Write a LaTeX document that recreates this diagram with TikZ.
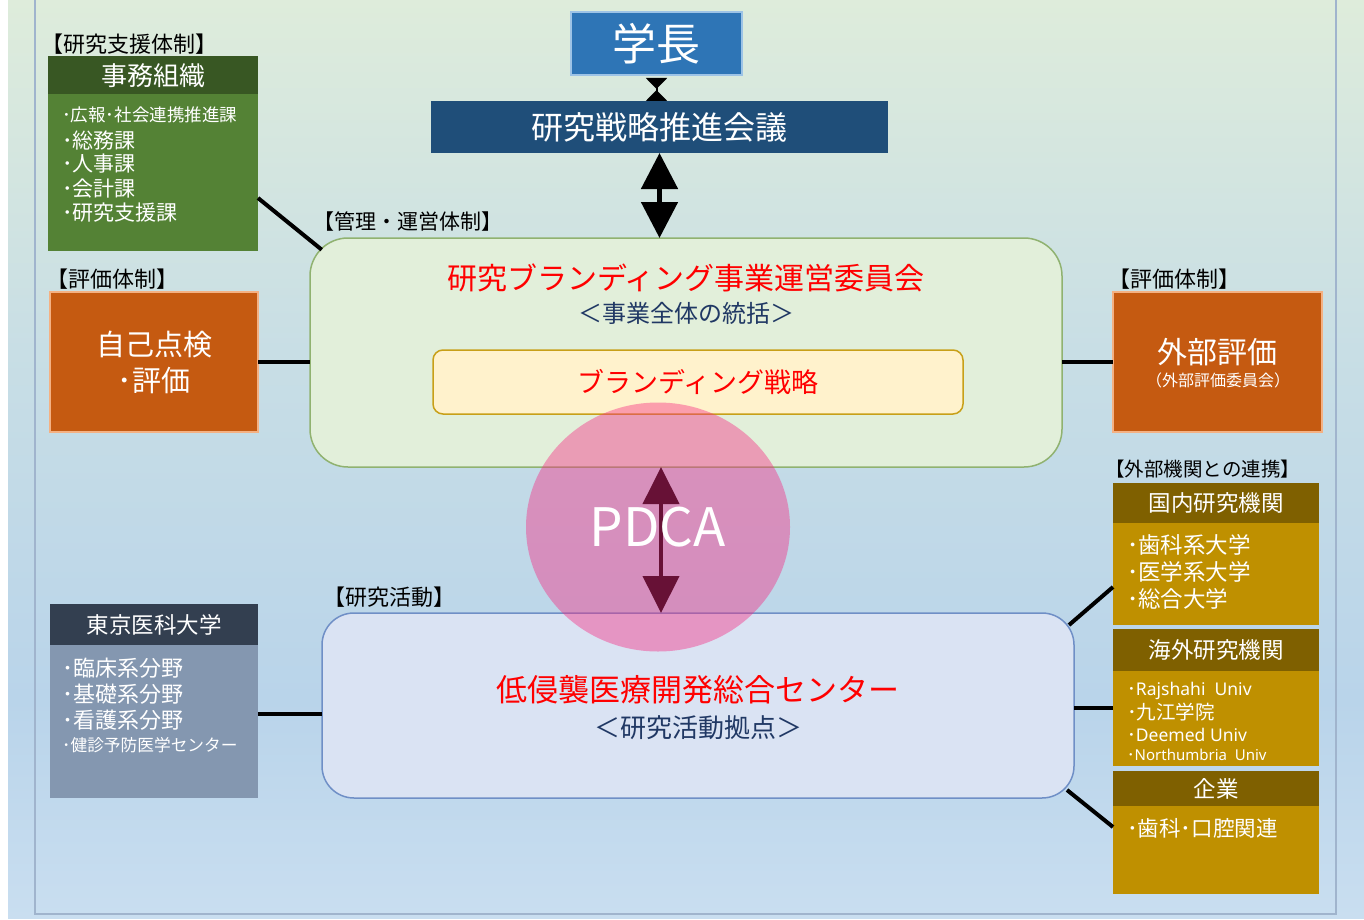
\documentclass[tikz,border=0pt]{standalone}
\usepackage{fontspec}
\setmainfont{Noto Sans CJK JP}
\newfontfamily\latf{Noto Sans}
\usetikzlibrary{arrows.meta,shapes.geometric}
\definecolor{bgtop}{RGB}{222,236,219}
\definecolor{bgmid}{RGB}{200,222,229}
\definecolor{bgblue}{RGB}{185,212,234}
\definecolor{bgbot}{RGB}{201,222,240}
\definecolor{framec}{RGB}{160,180,205}
\definecolor{gakuc}{RGB}{46,117,182}
\definecolor{gakub}{RGB}{157,195,230}
\definecolor{kaigic}{RGB}{31,78,121}
\definecolor{uneif}{RGB}{226,239,218}
\definecolor{uneid}{RGB}{144,178,112}
\definecolor{senf}{RGB}{255,242,204}
\definecolor{send}{RGB}{200,160,24}
\definecolor{cenf}{RGB}{218,227,243}
\definecolor{cend}{RGB}{111,143,198}
\definecolor{navy}{RGB}{32,56,100}
\definecolor{jimudk}{RGB}{56,87,35}
\definecolor{jimugr}{RGB}{84,130,53}
\definecolor{orangef}{RGB}{197,90,17}
\definecolor{oranged}{RGB}{244,177,131}
\definecolor{tokdk}{RGB}{51,63,80}
\definecolor{tokbd}{RGB}{132,151,176}
\definecolor{golddk}{RGB}{127,96,0}
\definecolor{goldbd}{RGB}{191,144,0}
\definecolor{pdcac}{RGB}{246,42,130}
\newcommand{\myfs}[1]{\fontsize{#1}{#1}\selectfont}
\begin{document}
\begin{tikzpicture}[x=1pt,y=-1pt,
  box/.style={rectangle, inner sep=0pt, outer sep=0pt},
  lbl/.style={anchor=west, inner sep=0pt, font=\myfs{22}, text=black},
  item/.style={anchor=west, inner sep=0pt, text=white},
  conn/.style={line width=4pt, black}
]
\useasboundingbox (0,0) rectangle (1364,920);
% background
\shade[top color=bgtop, bottom color=bgblue, middle color=bgmid] (8,0) rectangle (1364,700);
\shade[top color=bgblue, bottom color=bgbot] (8,700) rectangle (1364,918);
\draw[framec, line width=2.5pt] (35,-5) -- (35,914) -- (1336,914) -- (1336,-5);

% section labels
\node[lbl] (l1) at (41,44) {【研究支援体制】};
\node[lbl, font=\myfs{21}] (l2) at (313,222) {【管理・運営体制】};
\node[lbl] (l3) at (46,279) {【評価体制】};
\node[lbl] (l4) at (1108,279) {【評価体制】};
\node[lbl, font=\myfs{19.5}] (l5) at (1105,469) {【外部機関との連携】};
\node[lbl] (l6) at (323,597) {【研究活動】};

% top
\node[box, fill=gakuc, draw=gakub, line width=2pt, minimum width=171pt, minimum height=63pt, text=white, font=\myfs{44}] (gaku) at (656.5,43.5) {学長};
\node[box, fill=kaigic, minimum width=457pt, minimum height=52pt, text=white, font=\myfs{32}] (kaigi) at (659.5,127) {研究戦略推進会議};

% management box
\node[box, fill=uneif, draw=uneid, line width=1.5pt, rounded corners=38pt, minimum width=752pt, minimum height=229pt] (unei) at (686,352.5) {};
\node[inner sep=0pt, text=red, font=\myfs{30}] (unei1) at (686,278) {研究ブランディング事業運営委員会};
\node[inner sep=0pt, text=navy, font=\myfs{24}] (unei2) at (686,313) {＜事業全体の統括＞};
\node[box, fill=senf, draw=send, line width=1.5pt, rounded corners=10pt, minimum width=530pt, minimum height=64pt, text=red, font=\myfs{27}] (sen) at (698,382) {ブランディング戦略};

% research center
\node[box, fill=cenf, draw=cend, line width=1.5pt, rounded corners=32pt, minimum width=752pt, minimum height=185pt] (cen) at (698,705.5) {};
\node[inner sep=0pt, text=red, font=\myfs{31}] (cen1) at (698,690) {低侵襲医療開発総合センター};
\node[inner sep=0pt, text=navy, font=\myfs{26}] (cen2) at (698,728) {＜研究活動拠点＞};

% left: jimu
\node[box, fill=jimudk, minimum width=210pt, minimum height=38pt, text=white, font=\myfs{26}] (jimuh) at (153,75.5) {事務組織};
\node[box, fill=jimugr, minimum width=210pt, minimum height=157pt] (jimub) at (153,172.5) {};
\node[item, font=\myfs{17.5}] (j1) at (62,115) {･広報･社会連携推進課};
\node[item, font=\myfs{21}] (j2) at (62,140.5) {･総務課};
\node[item, font=\myfs{21}] (j3) at (62,164) {･人事課};
\node[item, font=\myfs{21}] (j4) at (62,188.5) {･会計課};
\node[item, font=\myfs{21}] (j5) at (62,213) {･研究支援課};

% left: jiko
\node[box, fill=orangef, draw=oranged, line width=2pt, minimum width=208pt, minimum height=140pt, text=white, align=center, font=\fontsize{29}{36}\selectfont] (jiko) at (154,362) {自己点検\\･評価};

% left: tokyo
\node[box, fill=tokdk, minimum width=208pt, minimum height=41pt, text=white, font=\myfs{22.5}] (tokh) at (154,624.5) {東京医科大学};
\node[box, fill=tokbd, minimum width=208pt, minimum height=153pt] (tokb) at (154,721.5) {};
\node[item, font=\myfs{22}] (t1) at (62,668) {･臨床系分野};
\node[item, font=\myfs{22}] (t2) at (62,694) {･基礎系分野};
\node[item, font=\myfs{22}] (t3) at (62,720) {･看護系分野};
\node[item, font=\myfs{16.7}] (t4) at (62,745) {･健診予防医学センター};

% right: gaibu
\node[box, fill=orangef, draw=oranged, line width=2pt, minimum width=209pt, minimum height=140pt] (gaibu) at (1217.5,362) {};
\node[inner sep=0pt, text=white, font=\myfs{30}] (gaibu1) at (1217,352) {外部評価};
\node[inner sep=0pt, text=white, font=\myfs{16}] (gaibu2) at (1218,380) {（外部評価委員会）};

% right: kokunai
\node[box, fill=golddk, minimum width=206pt, minimum height=40pt, text=white, font=\myfs{22.5}] (kokh) at (1216,503) {国内研究機関};
\node[box, fill=goldbd, minimum width=206pt, minimum height=102pt] (kokb) at (1216,574) {};
\node[item, font=\myfs{22.5}] (k1) at (1127,545) {･歯科系大学};
\node[item, font=\myfs{22.5}] (k2) at (1127,572) {･医学系大学};
\node[item, font=\myfs{22.5}] (k3) at (1127,599) {･総合大学};

% right: kaigai
\node[box, fill=golddk, minimum width=206pt, minimum height=42pt, text=white, font=\myfs{22.5}] (kaih) at (1216,650) {海外研究機関};
\node[box, fill=goldbd, minimum width=206pt, minimum height=95pt] (kaib) at (1216,718.5) {};
\node[item, font=\myfs{17.5}] (g1) at (1127,691) {･{\latf Rajshahi\ \ Univ}};
\node[item, font=\myfs{19.5}] (g2) at (1127,712) {･九江学院};
\node[item, font=\myfs{17.5}] (g3) at (1127,735) {･{\latf Deemed Univ}};
\node[item, font=\myfs{15}] (g4) at (1127,755) {･{\latf Northumbria\ \ Univ}};

% right: kigyo
\node[box, fill=golddk, minimum width=206pt, minimum height=35pt, text=white, font=\myfs{22.5}] (kigh) at (1216,788.5) {企業};
\node[box, fill=goldbd, minimum width=206pt, minimum height=88pt] (kigb) at (1216,850) {};
\node[item, font=\myfs{21.5}] (q1) at (1127,828) {･歯科･口腔関連};

% connectors
\draw[line width=2pt, {Triangle[width=21pt,length=11pt,reversed]}-{Triangle[width=21pt,length=11pt,reversed]}] ([yshift=-3pt]gaku.south) -- (gaku.south |- kaigi.north);
\draw[line width=5pt, {Triangle[width=36pt,length=36pt]}-{Triangle[width=36pt,length=36pt]}] (kaigi.south) -- (kaigi.south |- unei.north);

\draw[conn] ([yshift=-25.5pt]jimub.east) -- ([xshift=11.7pt,yshift=-11.7pt]unei.north west);
\draw[conn] (jiko.east) -- (jiko.east -| unei.west);
\coordinate (tk) at ([yshift=7.5pt]tokb.east);
\draw[conn] (tk) -- (tk -| cen.west);
\draw[conn] (gaibu.west) -- (gaibu.west -| unei.east);
\draw[conn] ([xshift=-5pt,yshift=-12pt]cen.north east) -- ([yshift=-13pt]kokb.west);
\coordinate (kg) at ([yshift=10.5pt]kaib.west);
\draw[conn] (kg -| cen.east) -- (kg);
\draw[conn] ([xshift=-7pt,yshift=8pt]cen.south east) -- ([yshift=23pt]kigb.west);

% PDCA
\coordinate (pa) at (661,540);
\draw[line width=4pt, black, {Triangle[width=36pt,length=37pt]}-{Triangle[width=36pt,length=37pt]}] (pa |- unei.south) -- (pa |- cen.north);
\node[ellipse, inner sep=0pt, minimum width=264pt, minimum height=249pt, fill=pdcac, fill opacity=0.42, text opacity=1, text=white, font=\myfs{53}] (pdca) at (658,527) {PDCA};
\end{tikzpicture}
\end{document}
